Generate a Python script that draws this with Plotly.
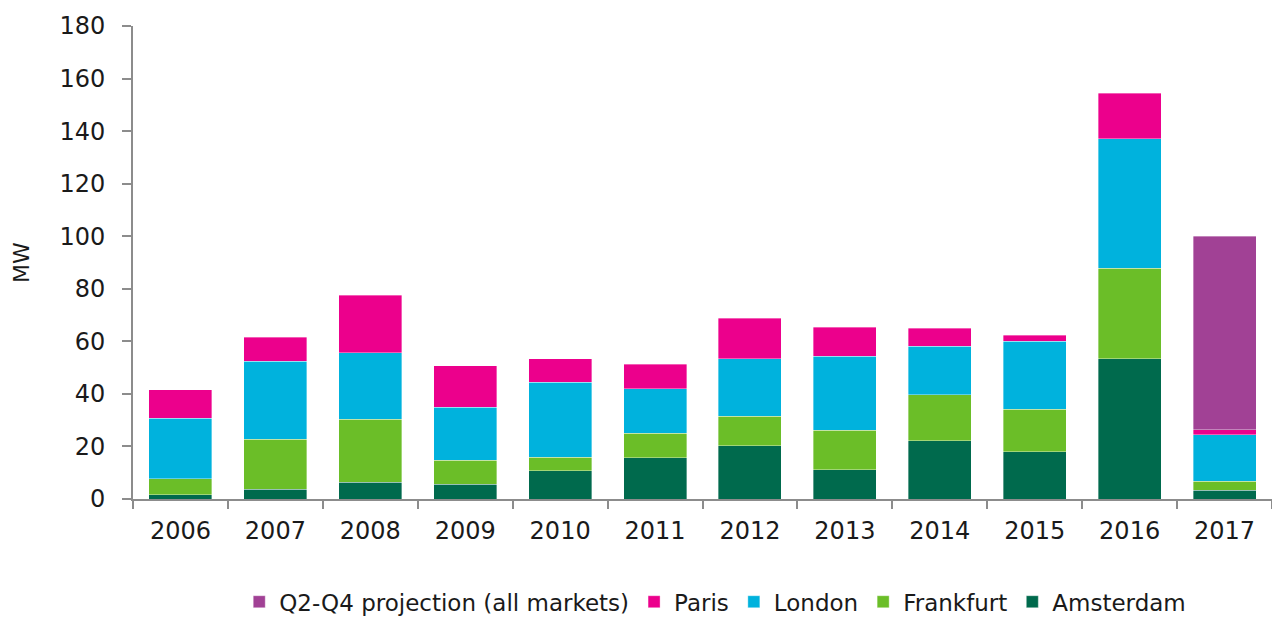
import plotly.graph_objects as go

years = ["2006", "2007", "2008", "2009", "2010", "2011", "2012", "2013", "2014", "2015", "2016", "2017"]
amsterdam = [1.6, 3.8, 6.3, 5.6, 10.8, 15.7, 20.3, 11.2, 22.1, 17.9, 53.4, 3.3]
frankfurt = [6.1, 18.9, 24.1, 9.1, 5.1, 9.3, 11.2, 14.9, 17.6, 16.3, 34.4, 3.4]
london = [23.0, 29.8, 25.2, 20.3, 28.5, 16.9, 21.8, 28.3, 18.4, 25.9, 49.2, 17.7]
paris = [10.8, 9.0, 21.9, 15.7, 8.9, 9.3, 15.4, 10.9, 6.8, 2.3, 17.5, 2.0]
projection = [None, None, None, None, None, None, None, None, None, None, None, 73.6]
y_ticks = [0, 20, 40, 60, 80, 100, 120, 140, 160, 180]

series = [
    ("Amsterdam", amsterdam, "#006A4D"),
    ("Frankfurt", frankfurt, "#6BBE28"),
    ("London", london, "#00B2DD"),
    ("Paris", paris, "#EC008C"),
    ("Q2-Q4 projection (all markets)", projection, "#A14195"),
]

FONT = "DejaVu Sans"
TXT = "#1a1a1a"
fig = go.Figure()
for name, vals, color in series:
    fig.add_trace(go.Bar(
        x=years, y=vals, name=name,
        marker=dict(color=color, line=dict(width=0.6, color="rgba(255,255,255,0.6)")),
    ))

fig.update_layout(
    barmode="stack",
    bargap=0.336,
    width=1272, height=609,
    margin=dict(l=125, r=8, t=18, b=118, autoexpand=False),
    plot_bgcolor="white", paper_bgcolor="white",
    font=dict(family=FONT, size=24, color=TXT),
    legend=dict(
        orientation="h", traceorder="reversed",
        xref="container", yref="container",
        x=0.556, xanchor="center", y=0.025, yanchor="middle",
        font=dict(family=FONT, size=23, color=TXT),
        itemwidth=30,
    ),
    showlegend=True,
)
fig.update_xaxes(
    type="category", automargin=False,
    showline=True, linecolor="#8c8c8c", linewidth=2,
    ticks="outside", tickson="boundaries", ticklen=8, tickcolor="#8c8c8c", tickwidth=2,
    showgrid=False, ticklabelstandoff=9,
    tickfont=dict(family=FONT, size=24, color=TXT),
)
fig.update_yaxes(
    range=[0, 180], tickvals=y_ticks, automargin=False,
    showline=True, linecolor="#8c8c8c", linewidth=2,
    ticks="outside", ticklen=9, tickcolor="#8c8c8c", tickwidth=2,
    showgrid=False, zeroline=False, ticklabelstandoff=12,
    tickfont=dict(family=FONT, size=24, color=TXT),
    title=dict(text="MW", standoff=24, font=dict(family=FONT, size=22, color=TXT)),
)

fig.write_html("out.html")
